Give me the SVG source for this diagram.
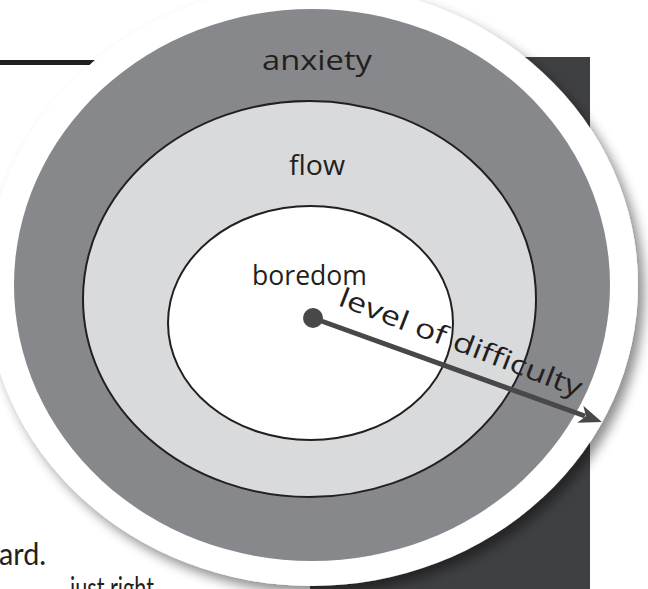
<svg xmlns="http://www.w3.org/2000/svg" width="648" height="589" viewBox="0 0 648 589">
  <style>
    .label { font-family: "Open Sans", "DejaVu Sans", sans-serif; font-size: 27px; fill: #231f20; }
    .body { font-family: "Lato", "Liberation Sans", sans-serif; font-size: 30px; fill: #231f20; }
    .ring { stroke: #231f20; stroke-width: 2; }
  </style>
  <defs>
    <filter id="softShadow" x="-10%" y="-10%" width="125%" height="125%">
      <feGaussianBlur in="SourceAlpha" stdDeviation="6"/>
      <feOffset dx="6" dy="7" result="blur"/>
      <feFlood flood-color="#000" flood-opacity="0.45"/>
      <feComposite in2="blur" operator="in"/>
      <feMerge>
        <feMergeNode/>
        <feMergeNode in="SourceGraphic"/>
      </feMerge>
    </filter>
    <marker id="arrowHead" viewBox="-6 -9 28 20" refX="0" refY="0" markerWidth="28" markerHeight="20" markerUnits="userSpaceOnUse" orient="auto" overflow="visible">
      <path d="M18,0 L-5,-9 L1,0 L-5,9 Z" fill="#48484a"/>
    </marker>
  </defs>

  <!-- page backdrop: rule, dark side panel, text fragments -->
  <polygon points="0,60 95,60 90,65 0,65" fill="#231f20"/>
  <rect x="310" y="57" width="280" height="540" fill="#3f4042"/>
  <text class="body" x="-1" y="565" textLength="47" lengthAdjust="spacingAndGlyphs">ard.</text>
  <text class="body" x="70" y="599" textLength="84" lengthAdjust="spacingAndGlyphs">just right</text>

  <!-- white disc carrying the chart -->
  <ellipse cx="312" cy="285" rx="326" ry="301" fill="#ffffff" filter="url(#softShadow)"/>

  <g id="anxiety">
    <ellipse cx="312" cy="285" rx="298" ry="276" fill="#87888c"/>
    <text class="label" x="262" y="70" textLength="110" lengthAdjust="spacingAndGlyphs">anxiety</text>
  </g>

  <g id="flow">
    <ellipse class="ring" cx="309.5" cy="299" rx="226.5" ry="198" fill="#d9dadc"/>
    <text class="label" x="289" y="175" textLength="56" lengthAdjust="spacingAndGlyphs">flow</text>
  </g>

  <g id="boredom">
    <ellipse class="ring" cx="310.5" cy="323" rx="142.5" ry="117" fill="#ffffff"/>
    <text class="label" x="252" y="285" textLength="115" lengthAdjust="spacingAndGlyphs">boredom</text>
  </g>

  <g id="connectors">
    <circle cx="313" cy="318" r="10" fill="#48484a"/>
    <line x1="313" y1="318" x2="585" y2="416" stroke="#48484a" stroke-width="5" marker-end="url(#arrowHead)"/>
    <text class="label" x="337" y="305" transform="rotate(21 337 305)" textLength="258" lengthAdjust="spacingAndGlyphs">level of difficulty</text>
  </g>
</svg>
